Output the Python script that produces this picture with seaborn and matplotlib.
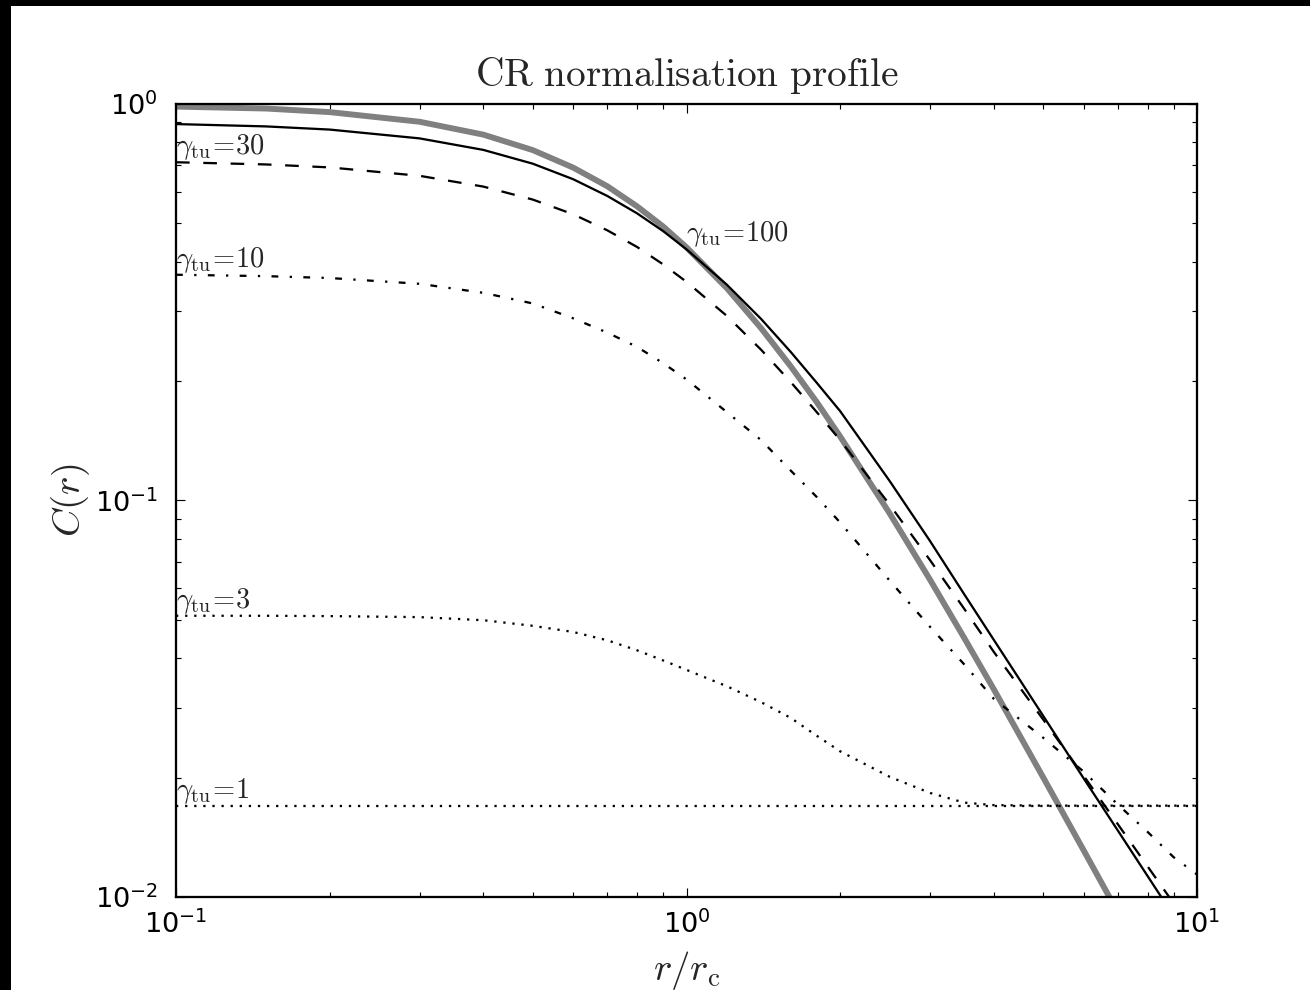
import numpy as np
import pandas as pd
import matplotlib
matplotlib.use("Agg")
import matplotlib.pyplot as plt
import seaborn as sns
from matplotlib.patches import Rectangle
from matplotlib.ticker import FixedLocator, FixedFormatter, LogLocator, NullFormatter

# ---------------- data ----------------
r_over_rc = [0.1, 0.15, 0.2, 0.3, 0.4, 0.5, 0.6, 0.7, 0.8, 0.9, 1.0, 1.2, 1.4,
             1.6, 1.8, 2.0, 2.5, 3.0, 3.5, 4.0, 5.0, 6.0, 7.0, 8.0, 9.0, 10.0]

c_reference = [0.985, 0.974, 0.954, 0.902, 0.837, 0.765, 0.691, 0.620, 0.552,
               0.491, 0.435, 0.343, 0.272, 0.218, 0.177, 0.145, 0.0928, 0.0631,
               0.0450, 0.0334, 0.0200, 0.0131, 0.00914, 0.00667, 0.00505, 0.00393]

c_gamma100 = [0.890, 0.878, 0.862, 0.819, 0.766, 0.707, 0.646, 0.586, 0.530,
              0.478, 0.430, 0.350, 0.287, 0.237, 0.198, 0.168, 0.112, 0.079,
              0.058, 0.0445, 0.0286, 0.0199, 0.0147, 0.0113, 0.00896, 0.00727]

c_gamma30 = [0.713, 0.704, 0.692, 0.659, 0.619, 0.574, 0.527, 0.480, 0.436,
             0.394, 0.356, 0.292, 0.240, 0.199, 0.167, 0.142, 0.0976, 0.0707,
             0.0533, 0.0415, 0.0280, 0.0202, 0.01525, 0.01195, 0.00964, 0.00797]

c_gamma10 = [0.371, 0.368, 0.364, 0.352, 0.334, 0.314, 0.288, 0.265, 0.244,
             0.222, 0.202, 0.167, 0.142, 0.119, 0.102, 0.0880, 0.0628, 0.0480,
             0.0386, 0.0316, 0.0252, 0.0207, 0.0171, 0.0146, 0.0126, 0.0114]

c_gamma3 = [0.0512, 0.0512, 0.0511, 0.0508, 0.0499, 0.0483, 0.0466, 0.0444,
            0.0419, 0.0395, 0.0374, 0.0340, 0.0310, 0.0283, 0.0255, 0.0233,
            0.0201, 0.0183, 0.0173, 0.01705, 0.0170, 0.0170, 0.0170, 0.0170,
            0.0170, 0.0170]

c_gamma1 = [0.0170, 0.0170, 0.0170, 0.0170, 0.0170, 0.0170, 0.0170, 0.0170,
            0.0170, 0.0170, 0.0170, 0.0170, 0.0170, 0.0170, 0.0170, 0.0170,
            0.0170, 0.0170, 0.0170, 0.0170, 0.0170, 0.0170, 0.0170, 0.0170,
            0.0170, 0.0170]

gamma_labels = ["100", "30", "10", "3", "1"]

x_tick_values = [0.1, 1.0, 10.0]
x_tick_labels = ["10^{-1}", "10^{0}", "10^{1}"]
y_tick_values = [0.01, 0.1, 1.0]
y_tick_labels = ["10^{-2}", "10^{-1}", "10^{0}"]

title_text = "CR normalisation profile"

# ---------------- style ----------------
sns.set_style("ticks", {"xtick.direction": "in", "ytick.direction": "in"})
plt.rcParams["font.family"] = ["DejaVu Sans"]
plt.rcParams["mathtext.fontset"] = "cm"
plt.rcParams["axes.linewidth"] = 1.0
plt.rcParams["axes.edgecolor"] = "black"

DPI = 163.75
fig = plt.figure(figsize=(1310 / DPI, 990 / DPI), dpi=DPI)
fig.patch.set_facecolor("white")
# dark strips along the left and top border of the reference picture
fig.patches.append(Rectangle((0, 0), 11 / 1310, 1, transform=fig.transFigure,
                             facecolor="black", edgecolor="none", zorder=-10))
fig.patches.append(Rectangle((0, 1 - 6 / 990), 1, 6 / 990, transform=fig.transFigure,
                             facecolor="black", edgecolor="none", zorder=-10))

ax = fig.add_axes([176 / 1310, 1 - 897 / 990, (1197 - 176) / 1310, (897 - 104) / 990])
ax.set_xscale("log")
ax.set_yscale("log")

df = pd.DataFrame({
    "r": r_over_rc,
    "ref": c_reference,
    "g100": c_gamma100,
    "g30": c_gamma30,
    "g10": c_gamma10,
    "g3": c_gamma3,
    "g1": c_gamma1,
})

sns.lineplot(data=df, x="r", y="ref", ax=ax, color="#808080", linewidth=2.6,
             estimator=None, sort=False)
sns.lineplot(data=df, x="r", y="g100", ax=ax, color="black", linewidth=1.0,
             estimator=None, sort=False)
sns.lineplot(data=df, x="r", y="g30", ax=ax, color="black", linewidth=1.0,
             linestyle=(0, (6, 6)), estimator=None, sort=False)
sns.lineplot(data=df, x="r", y="g10", ax=ax, color="black", linewidth=1.0,
             linestyle=(0, (3, 5, 1, 5)), estimator=None, sort=False)
sns.lineplot(data=df, x="r", y="g3", ax=ax, color="black", linewidth=1.0,
             linestyle=(0, (1, 3)), estimator=None, sort=False)
sns.lineplot(data=df, x="r", y="g1", ax=ax, color="black", linewidth=1.0,
             linestyle=(0, (1, 3)), estimator=None, sort=False)

# curve labels
series = [c_gamma100, c_gamma30, c_gamma10, c_gamma3, c_gamma1]
for lab, ser in zip(gamma_labels, series):
    if lab == "100":
        xi = r_over_rc.index(1.0)
    else:
        xi = 0
    ax.text(r_over_rc[xi], ser[xi], r"$\gamma_{\rm tu}\!=\!%s$" % lab,
            ha="left", va="bottom", fontsize=12.5)

ax.set_xlim(x_tick_values[0], x_tick_values[-1])
ax.set_ylim(y_tick_values[0], y_tick_values[-1])

ax.xaxis.set_major_locator(FixedLocator(x_tick_values))
ax.xaxis.set_major_formatter(FixedFormatter([r"$\mathdefault{%s}$" % s for s in x_tick_labels]))
ax.yaxis.set_major_locator(FixedLocator(y_tick_values))
ax.yaxis.set_major_formatter(FixedFormatter([r"$\mathdefault{%s}$" % s for s in y_tick_labels]))
ax.xaxis.set_minor_locator(LogLocator(base=10, subs=np.arange(2, 10)))
ax.yaxis.set_minor_locator(LogLocator(base=10, subs=np.arange(2, 10)))
ax.xaxis.set_minor_formatter(NullFormatter())
ax.yaxis.set_minor_formatter(NullFormatter())

ax.tick_params(which="both", direction="in", top=True, right=True, colors="black",
               width=0.5)
ax.tick_params(which="major", length=4)
ax.tick_params(which="minor", length=2)
ax.tick_params(axis="x", which="major", labelsize=12, pad=6)
ax.tick_params(axis="y", which="major", labelsize=12, pad=8)
for sp in ax.spines.values():
    sp.set_visible(True)
    sp.set_linewidth(1.0)
    sp.set_color("black")

ax.set_title(r"$\mathrm{%s}$" % title_text.replace(" ", r"\ "), fontsize=17.3, pad=8)
ax.set_xlabel(r"$r/r_{\rm c}$", fontsize=17)
ax.set_ylabel(r"$C(r)$", fontsize=17)
ax.yaxis.set_label_coords(-0.082, 0.5)
ax.xaxis.set_label_coords(0.5, -0.066)

fig.savefig("out.png", dpi=DPI, facecolor=fig.get_facecolor())
